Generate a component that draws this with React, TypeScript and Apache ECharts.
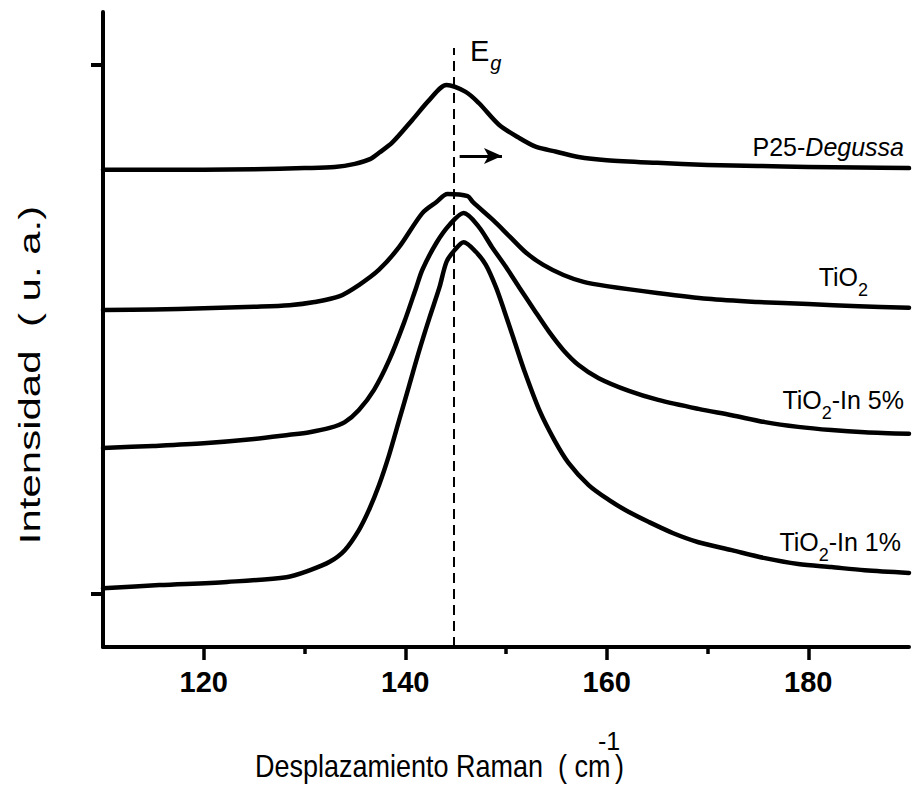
import { useEffect, useRef } from "react";
import * as echarts from "echarts";

// Raman shift (cm-1) and relative intensity (u. a.) for each sample
const p25Shift = [110, 115, 120, 125, 130, 133, 135, 136.5, 137.4, 138.7, 140.7, 142.4, 144.1, 146.0, 147.3, 149.3, 151.3, 153.0, 155, 157.2, 160, 165, 170, 175, 180, 185, 190];
const p25Intensity = [0.802, 0.802, 0.802, 0.803, 0.805, 0.807, 0.813, 0.822, 0.834, 0.853, 0.896, 0.934, 0.962, 0.949, 0.928, 0.887, 0.862, 0.845, 0.836, 0.826, 0.820, 0.815, 0.811, 0.809, 0.807, 0.806, 0.805];

const tio2Shift = [110, 115, 120, 125, 128.5, 131, 133.5, 135.4, 137.4, 139.4, 141.7, 143.1, 144.2, 146.2, 146.7, 148.7, 150.4, 152, 153.7, 155.7, 157.7, 160, 165, 170, 175, 180, 185, 190];
const tio2Intensity = [0.537, 0.538, 0.540, 0.543, 0.546, 0.552, 0.563, 0.584, 0.613, 0.656, 0.720, 0.741, 0.756, 0.752, 0.741, 0.707, 0.675, 0.645, 0.622, 0.603, 0.590, 0.582, 0.569, 0.558, 0.552, 0.548, 0.544, 0.541];

const in5Shift = [110, 115, 120, 125, 128.5, 130.5, 132.5, 134, 135.4, 136.9, 138.4, 139.9, 141.1, 141.7, 143.1, 144.4, 145.8, 147.3, 148.6, 150, 151.3, 152.8, 154.3, 155.7, 157.2, 159.2, 162.2, 165.1, 169.1, 172.4, 175.7, 179, 182.3, 185.6, 190];
const in5Intensity = [0.276, 0.280, 0.285, 0.293, 0.301, 0.306, 0.314, 0.325, 0.348, 0.386, 0.442, 0.514, 0.580, 0.613, 0.664, 0.698, 0.720, 0.694, 0.656, 0.618, 0.580, 0.537, 0.495, 0.461, 0.433, 0.408, 0.384, 0.367, 0.350, 0.338, 0.325, 0.316, 0.310, 0.306, 0.303];

const in1Shift = [110, 115.6, 122.3, 128.2, 130.5, 132.5, 134, 135.4, 136.4, 137.4, 138.4, 139.4, 140.4, 141.4, 142.4, 143.4, 144.1, 144.9, 145.8, 147, 148, 149, 149.8, 150.8, 151.8, 153.3, 154.8, 156.2, 158.2, 160.2, 162.2, 164.2, 166.6, 169.1, 172.4, 175.7, 179, 182.3, 185.6, 190];
const in1Intensity = [0.011, 0.017, 0.023, 0.032, 0.045, 0.061, 0.083, 0.121, 0.159, 0.206, 0.263, 0.329, 0.395, 0.461, 0.522, 0.580, 0.628, 0.650, 0.665, 0.647, 0.622, 0.580, 0.537, 0.480, 0.423, 0.348, 0.291, 0.248, 0.206, 0.178, 0.155, 0.136, 0.115, 0.098, 0.083, 0.068, 0.057, 0.051, 0.045, 0.040];

const xMajorTicks = [120, 140, 160, 180];
const xMinorTicks = [130, 150, 170];
const yTicks = [0, 1];
const egPosition = 144.8;
const egLineRange = [-0.1, 1.032];
const shiftArrow = { from: 145.4, to: 149.6, level: 0.828 };

const FONT = "'Liberation Sans', Arial, Helvetica, sans-serif";

const pairs = (xs: number[], ys: number[]) => xs.map((x, i) => [x, ys[i]]);

export default function App() {
  const ref = useRef<HTMLDivElement>(null);

  useEffect(() => {
    if (!ref.current) return;
    const chart = echarts.init(ref.current, undefined, { renderer: "svg" });

    const lineBase = {
      type: "line" as const,
      showSymbol: false,
      symbol: "none",
      smooth: 0.3,
      xAxisIndex: 0,
      yAxisIndex: 0,
      lineStyle: { color: "#000", width: 4.5, join: "round", cap: "round" },
      z: 3,
    };

    const normal = { fontFamily: FONT, fontSize: 25, color: "#000", verticalAlign: "top" };
    const sub = { fontFamily: FONT, fontSize: 18, color: "#000", verticalAlign: "top", padding: [17, 0, 0, 0] };

    chart.setOption({
      animation: false,
      backgroundColor: "#fff",
      grid: { left: 103, right: 5, top: 12, bottom: 142, containLabel: false },
      xAxis: [
        {
          type: "value",
          min: 110,
          max: 190,
          position: "bottom",
          axisLine: { onZero: false, lineStyle: { color: "#000", width: 4, cap: "round" } },
          axisTick: { show: true, customValues: xMajorTicks, length: 13, lineStyle: { color: "#000", width: 3.5 } },
          axisLabel: {
            customValues: xMajorTicks,
            fontFamily: FONT,
            fontWeight: "bold",
            fontSize: 29,
            color: "#000",
            margin: 20,
          },
          splitLine: { show: false },
        },
        {
          type: "value",
          min: 110,
          max: 190,
          position: "bottom",
          offset: 0,
          axisLine: { show: false, onZero: false },
          axisTick: { show: true, customValues: xMinorTicks, length: 7, lineStyle: { color: "#000", width: 3.5 } },
          axisLabel: { show: false },
          splitLine: { show: false },
        },
      ],
      yAxis: {
        type: "value",
        min: -0.1,
        max: 1.1,
        axisLine: { show: true, onZero: false, lineStyle: { color: "#000", width: 4, cap: "round" } },
        axisTick: { show: true, customValues: yTicks, length: 12, lineStyle: { color: "#000", width: 4 } },
        axisLabel: { show: false },
        splitLine: { show: false },
      },
      series: [
        {
          ...lineBase,
          name: "P25-Degussa",
          data: pairs(p25Shift, p25Intensity),
          markLine: {
            silent: true,
            symbol: ["none", "arrow"],
            symbolSize: [12, 18],
            label: { show: false },
            lineStyle: { color: "#000", width: 3, type: "solid" },
            data: [[{ coord: [shiftArrow.from, shiftArrow.level] }, { coord: [shiftArrow.to, shiftArrow.level] }]],
          },
        },
        {
          ...lineBase,
          name: "TiO2",
          data: pairs(tio2Shift, tio2Intensity),
          markLine: {
            silent: true,
            symbol: ["none", "none"],
            label: { show: false },
            lineStyle: { color: "#000", width: 2, type: [10, 6] },
            data: [[{ coord: [egPosition, egLineRange[0]] }, { coord: [egPosition, egLineRange[1]] }]],
          },
        },
        { ...lineBase, name: "TiO2-In 5%", data: pairs(in5Shift, in5Intensity) },
        { ...lineBase, name: "TiO2-In 1%", data: pairs(in1Shift, in1Intensity) },
      ],
      graphic: [
        {
          type: "text",
          x: 470,
          y: 36,
          style: {
            text: "{e|E}{g|g}",
            verticalAlign: "top",
            rich: {
              e: { fontFamily: FONT, fontSize: 29, color: "#000", verticalAlign: "top" },
              g: { fontFamily: FONT, fontSize: 20, fontStyle: "italic", color: "#000", verticalAlign: "top", padding: [17, 0, 0, 1] },
            },
          },
        },
        {
          type: "text",
          x: 904,
          y: 134,
          style: {
            text: "{n|P25-}{i|Degussa}",
            align: "right",
            verticalAlign: "top",
            rich: { n: normal, i: { ...normal, fontStyle: "italic" } },
          },
        },
        {
          type: "text",
          x: 868,
          y: 264,
          style: { text: "{n|TiO}{s|2}", align: "right", verticalAlign: "top", rich: { n: normal, s: sub } },
        },
        {
          type: "text",
          x: 904,
          y: 387,
          style: { text: "{n|TiO}{s|2}{n|-In 5%}", align: "right", verticalAlign: "top", rich: { n: normal, s: sub } },
        },
        {
          type: "text",
          x: 901,
          y: 529,
          style: { text: "{n|TiO}{s|2}{n|-In 1%}", align: "right", verticalAlign: "top", rich: { n: normal, s: sub } },
        },
        {
          type: "text",
          x: 255,
          y: 766,
          scaleY: 1.15,
          style: {
            text: "Desplazamiento Raman  ( cm",
            fontFamily: FONT,
            fontSize: 27,
            fill: "#000",
            align: "left",
            verticalAlign: "middle",
          },
        },
        {
          type: "text",
          x: 598,
          y: 741,
          style: { text: "-1", fontFamily: FONT, fontSize: 25, fill: "#000", align: "left", verticalAlign: "middle" },
        },
        {
          type: "text",
          x: 615,
          y: 766,
          scaleY: 1.15,
          style: { text: ")", fontFamily: FONT, fontSize: 27, fill: "#000", align: "left", verticalAlign: "middle" },
        },
        {
          type: "text",
          x: 30,
          y: 375,
          rotation: Math.PI / 2,
          scaleX: 1.4,
          style: {
            text: "Intensidad  ( u. a.)",
            fontFamily: FONT,
            fontSize: 30,
            fill: "#000",
            align: "center",
            verticalAlign: "middle",
          },
        },
      ],
    });

    return () => chart.dispose();
  }, []);

  return <div ref={ref} style={{ position: "absolute", left: 0, top: 0, width: 914, height: 789 }} />;
}
